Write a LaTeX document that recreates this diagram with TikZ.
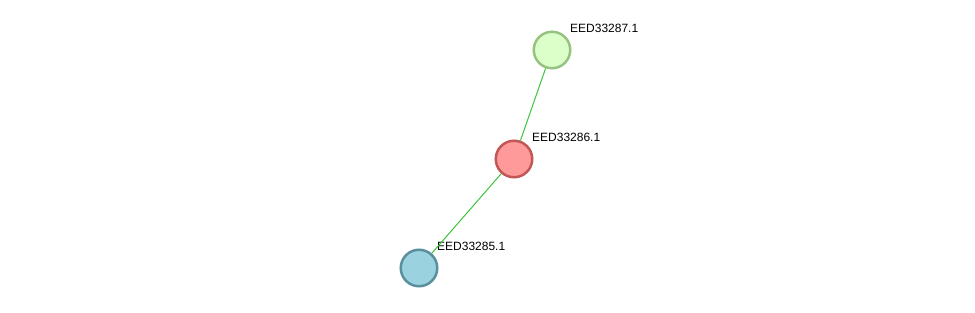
\documentclass[tikz,border=0pt]{standalone}
\usepackage{fontspec}
\setmainfont{Liberation Sans}
\usepackage{xcolor}
\usetikzlibrary{positioning}

\definecolor{edgegreen}{HTML}{3CC43C}
\definecolor{fillA}{HTML}{DAFFC8}
\definecolor{drawA}{HTML}{98C282}
\definecolor{fillB}{HTML}{FF9A9A}
\definecolor{drawB}{HTML}{C15757}
\definecolor{fillC}{HTML}{9AD2E0}
\definecolor{drawC}{HTML}{5A8F9E}

\begin{document}
\begin{tikzpicture}[
    x=1pt, y=-1pt,
    prot/.style={
        circle,
        minimum size=36.5pt,
        inner sep=0pt,
        line width=2.5pt
    },
    lbl/.style={
        anchor=west,
        inner sep=0pt,
        font=\fontsize{12}{13}\selectfont
    },
    link/.style={
        draw=edgegreen,
        line width=1pt
    }
]
\useasboundingbox (0,0) rectangle (975,313);

\node[prot, fill=fillA, draw=drawA] (p287) at (552,50) {};
\node[prot, fill=fillB, draw=drawB] (p286) at (514,159) {};
\node[prot, fill=fillC, draw=drawC] (p285) at (419,268) {};

\node[lbl] (l287) at ([shift={(18,-22)}]p287.center) {EED33287.1};
\node[lbl] (l286) at ([shift={(18,-22)}]p286.center) {EED33286.1};
\node[lbl] (l285) at ([shift={(18,-22)}]p285.center) {EED33285.1};

\draw[link] (p287) -- (p286);
\draw[link] (p286) -- (p285);

\end{tikzpicture}
\end{document}
